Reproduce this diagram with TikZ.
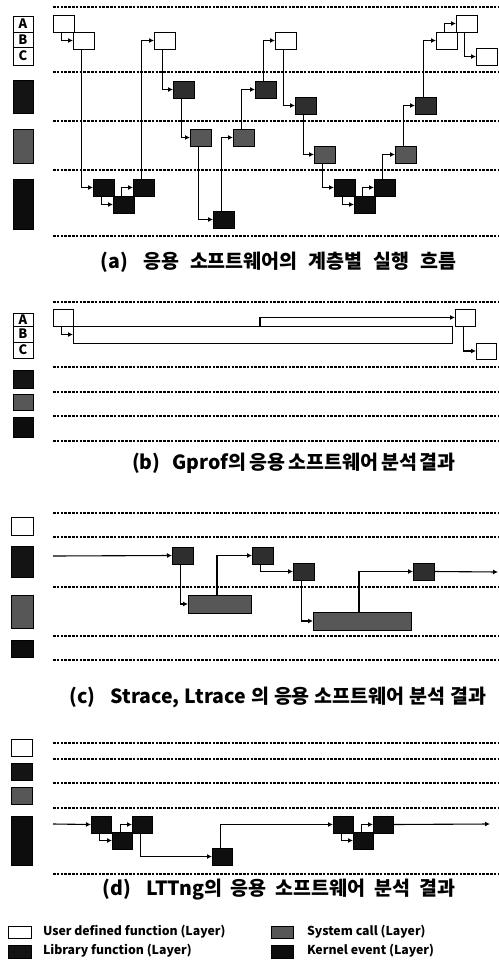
\documentclass[tikz,border=0pt]{standalone}
\usepackage{fontspec}
\newfontfamily\kr{Noto Sans CJK KR}
\usetikzlibrary{arrows.meta}
\newcommand\dn[2]{\draw[conn] ([xshift=8.5pt]#1.south west) |- (#2.west);}
\newcommand\upc[2]{\draw[conn] ([xshift=8.5pt]#1.north west) |- (#2.west);}
\newcommand\lgap{\hspace{15pt}}
\begin{document}
\begin{tikzpicture}[x=1pt,y=-1pt,
  every node/.style={inner sep=0pt, outer sep=0pt},
  fbox/.style={draw=black, line width=0.8pt, minimum width=21pt, minimum height=17pt, anchor=north west},
  ubox/.style={fbox, fill=white},
  lbox/.style={fbox, fill=black!82},
  sbox/.style={fbox, fill=black!66},
  kbox/.style={fbox, fill=black!94},
  conn/.style={line width=1.1pt, -{Latex[length=5pt,width=5pt]}},
  grid/.style={line width=1.3pt, dash pattern=on 2.6pt off 1.2pt},
  lay/.style={draw=black, line width=0.8pt},
  captext/.style={font=\kr\bfseries\fontsize{19.5}{21}\selectfont},
  leg/.style={font=\kr\bfseries\fontsize{12.3}{13}\selectfont, anchor=west},
  abc/.style={font=\kr\bfseries\fontsize{13}{13}\selectfont},
]
\useasboundingbox (0,0) rectangle (498,976);

% ================= panel (a)
\foreach \y in {7,72,121,170,236} \draw[grid] (53,\y) -- (498,\y);
\draw[lay, fill=white] (13,16) rectangle (33,32);
\draw[lay, fill=white] (13,32) rectangle (33,47);
\draw[lay, fill=white] (13,47) rectangle (33,65);
\node[abc] (la) at (23,24) {A};
\node[abc] (lb) at (23,39.5) {B};
\node[abc] (lc) at (23,56) {C};
\draw[lay, fill=black!92] (13,80) rectangle (33,113);
\draw[lay, fill=black!66] (13,129) rectangle (33,163);
\draw[lay, fill=black!95] (13,179) rectangle (33,229);

\node[ubox] (a1) at (53,15) {};
\node[ubox] (b1) at (73,32) {};
\node[kbox] (k1) at (93,179) {};
\node[kbox] (k2) at (113,196) {};
\node[kbox] (k3) at (133,179) {};
\node[ubox] (b2) at (154,32) {};
\node[lbox] (l1) at (173,81) {};
\node[sbox] (s1) at (190,129) {};
\node[kbox] (k4) at (213,211) {};
\node[sbox] (s2) at (233,129) {};
\node[lbox] (l2) at (255,81) {};
\node[ubox] (b3) at (275,32) {};
\node[lbox] (l3) at (295,97) {};
\node[sbox] (s3) at (314,146) {};
\node[kbox] (k5) at (334,179) {};
\node[kbox] (k6) at (354,196) {};
\node[kbox] (k7) at (374,179) {};
\node[sbox] (s4) at (395,146) {};
\node[lbox] (l4) at (415,97) {};
\node[ubox] (b4) at (436,32) {};
\node[ubox] (a2) at (456,15) {};
\node[ubox] (c1) at (476,48) {};

\dn{a1}{b1} \dn{b1}{k1} \dn{k1}{k2} \upc{k2}{k3} \upc{k3}{b2}
\dn{b2}{l1} \dn{l1}{s1} \dn{s1}{k4} \upc{k4}{s2} \upc{s2}{l2}
\upc{l2}{b3} \dn{b3}{l3} \dn{l3}{s3} \dn{s3}{k5} \dn{k5}{k6}
\upc{k6}{k7} \upc{k7}{s4} \upc{s4}{l4} \upc{l4}{b4} \upc{b4}{a2}
\dn{a2}{c1}

\node[captext] (capa) at (278.5,262) {\def\wgap{\hspace{11pt}}(a)\lgap 응용\wgap 소프트웨어의\wgap 계층별\wgap 실행\wgap 흐름};

% ================= panel (b)
\foreach \y in {302,367,392,416,441} \draw[grid] (53,\y) -- (498,\y);
\draw[lay, fill=white] (13,313) rectangle (33,326);
\draw[lay, fill=white] (13,326) rectangle (33,342);
\draw[lay, fill=white] (13,342) rectangle (33,358);
\node[abc] (lba) at (23,319.5) {A};
\node[abc] (lbb) at (23,334) {B};
\node[abc] (lbc) at (23,350) {C};
\draw[lay, fill=black!92] (13,370) rectangle (33,388);
\draw[lay, fill=black!66] (13,394) rectangle (33,410);
\draw[lay, fill=black!95] (13,417) rectangle (33,437);

\node[ubox, minimum width=20pt] (ba1) at (53,309) {};
\node[ubox, minimum width=379pt] (bbar) at (73,326) {};
\node[ubox, minimum width=20pt] (ba2) at (455,309) {};
\node[ubox, minimum width=20pt, minimum height=16pt] (bc1) at (476,343) {};
\dn{ba1}{bbar}
\draw[conn] ([xshift=187pt]bbar.north west) |- (ba2.west);
\dn{ba2}{bc1}

\node[captext] (capb) at (294,463) {\def\wgap{\hspace{3pt}}(b)\hspace{12pt}Gprof의\wgap 응용\wgap 소프트웨어\wgap 분석\wgap 결과};

% ================= panel (c)
\foreach \y in {513,537,587,636,660} \draw[grid] (53,\y) -- (498,\y);
\draw[lay, fill=white] (11,517) rectangle (33,535);
\draw[lay, fill=black!92] (11,546) rectangle (33,577);
\draw[lay, fill=black!66] (11,595) rectangle (33,628);
\draw[lay, fill=black!95] (11,640) rectangle (33,657);

\coordinate (cst) at (53,556);
\node[lbox] (cn1) at (172,547) {};
\node[sbox, minimum width=63pt, minimum height=18pt] (cs1) at (188,595) {};
\node[lbox] (cn2) at (252,547) {};
\node[lbox] (cn3) at (293,563) {};
\node[sbox, minimum width=98pt, minimum height=18pt] (cs2) at (313,612) {};
\node[lbox] (cn4) at (413,563) {};
\coordinate (cend) at (498,572);
\draw[conn] (cst) -- (cn1.west);
\dn{cn1}{cs1}
\draw[conn] ([xshift=29pt]cs1.north west) |- (cn2.west);
\dn{cn2}{cn3} \dn{cn3}{cs2}
\draw[conn] ([xshift=46pt]cs2.north west) |- (cn4.west);
\draw[conn] (cn4.east) -- (cend);

\node[captext] (capc) at (278,697) {\def\wgap{\hspace{5pt}}(c)\lgap Strace,\wgap Ltrace\wgap 의\wgap 응용\wgap 소프트웨어\wgap 분석\wgap 결과};

% ================= panel (d)
\foreach \y in {743,759,783,808,874} \draw[grid] (53,\y) -- (498,\y);
\draw[lay, fill=white] (11,739) rectangle (32,756);
\draw[lay, fill=black!92] (11,763) rectangle (32,780);
\draw[lay, fill=black!66] (11,787) rectangle (32,804);
\draw[lay, fill=black!95] (11,816) rectangle (32,865);

\coordinate (dst) at (53,824);
\node[kbox, minimum width=20pt] (dk1) at (91,816) {};
\node[kbox, minimum width=20pt] (dk2) at (112,832) {};
\node[kbox, minimum width=20pt] (dk3) at (132,816) {};
\node[kbox, minimum width=20pt] (dk4) at (212,848) {};
\node[kbox, minimum width=20pt] (dk5) at (333,816) {};
\node[kbox, minimum width=20pt] (dk6) at (353,832) {};
\node[kbox, minimum width=20pt] (dk7) at (373,816) {};
\coordinate (dend) at (490,824);
\draw[conn] (dst) -- (dk1.west);
\dn{dk1}{dk2} \upc{dk2}{dk3} \dn{dk3}{dk4} \upc{dk4}{dk5}
\dn{dk5}{dk6} \upc{dk6}{dk7}
\draw[conn] (dk7.east) -- (dend);

\node[captext] (capd) at (279,890) {\def\wgap{\hspace{9pt}}(d)\lgap LTTng의\wgap 응용\wgap 소프트웨어\wgap 분석\wgap 결과};

% ================= legend
\draw[lay, fill=white] (8,926) rectangle (31,938);
\draw[lay, fill=black!92] (8,945) rectangle (31,958);
\draw[lay, fill=black!66] (271,926) rectangle (293,938);
\draw[lay, fill=black!95] (271,945) rectangle (293,958);
\node[leg] (t1) at (43,932) {User defined function (Layer)};
\node[leg] (t2) at (43,951) {Library function (Layer)};
\node[leg] (t3) at (307,932) {System call (Layer)};
\node[leg] (t4) at (307,951) {Kernel event (Layer)};
\end{tikzpicture}
\end{document}
